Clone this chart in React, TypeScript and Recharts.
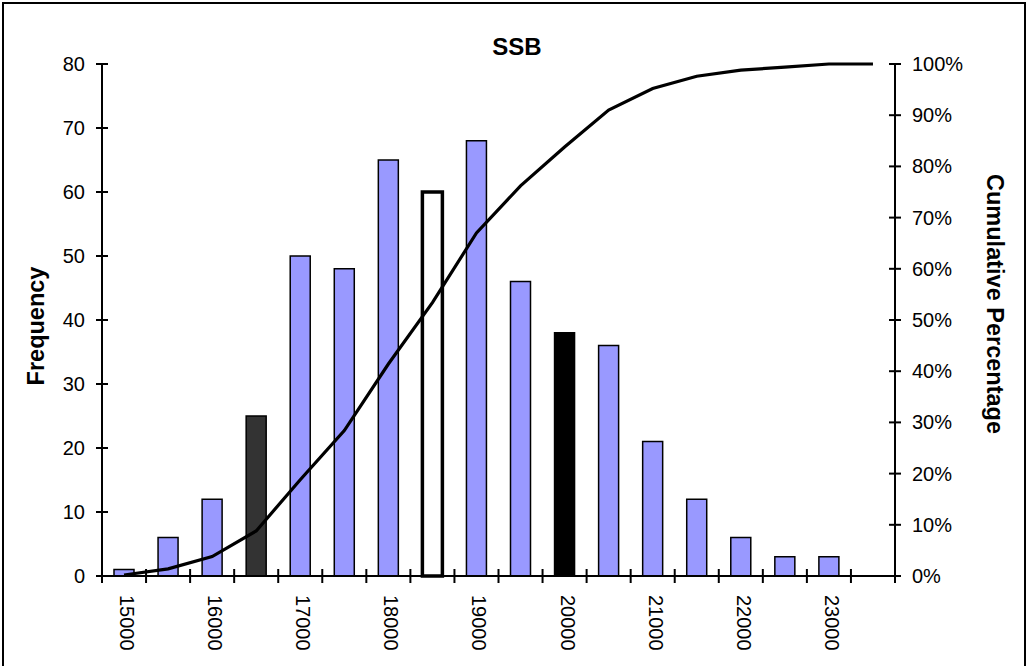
import React from 'react';
import { ComposedChart, Bar, Line, XAxis, YAxis, Cell } from 'recharts';

const categories = [15000, 15500, 16000, 16500, 17000, 17500, 18000, 18500, 19000, 19500, 20000, 20500, 21000, 21500, 22000, 22500, 23000, 23500];
const frequency = [1, 6, 12, 25, 50, 48, 65, 60, 68, 46, 38, 36, 21, 12, 6, 3, 3, 0];
const cumulativePct = [0.2, 1.4, 3.8, 8.8, 18.8, 28.4, 41.4, 53.4, 67, 76.2, 83.8, 91, 95.2, 97.6, 98.8, 99.4, 100, 100];
const xTickLabels = ['15000', '16000', '17000', '18000', '19000', '20000', '21000', '22000', '23000'];
const freqTicks = [0, 10, 20, 30, 40, 50, 60, 70, 80];
const pctTicks = [0, 10, 20, 30, 40, 50, 60, 70, 80, 90, 100];

const data = categories.map((c, i) => ({ cat: c, freq: frequency[i], cum: cumulativePct[i] }));

// styles
const FONT = '"Liberation Sans", Arial, sans-serif';
const W = 1027;
const H = 666;
const PLOT_LEFT = 102;
const PLOT_RIGHT = 895;
const PLOT_TOP = 64;
const PLOT_BOTTOM = 576;
const BAND = (PLOT_RIGHT - PLOT_LEFT) / categories.length;
const BAR_FILL = '#9999FF';
const highlight: Record<number, { fill: string; stroke: string; strokeWidth: number }> = {
  16500: { fill: '#333333', stroke: '#000', strokeWidth: 1.5 },
  18500: { fill: '#FFFFFF', stroke: '#000', strokeWidth: 3.5 },
  20000: { fill: '#000000', stroke: '#000', strokeWidth: 1.5 },
};

const LeftTick = (props: any) => {
  const { x, y, payload } = props;
  return (
    <g>
      <line x1={x - 6} x2={x + 6} y1={y} y2={y} stroke="#000" strokeWidth={2} />
      <text x={x - 17} y={y} textAnchor="end" dominantBaseline="central" fontSize={20} fontFamily={FONT} fill="#000">
        {payload.value}
      </text>
    </g>
  );
};

const RightTick = (props: any) => {
  const { x, y, payload } = props;
  return (
    <g>
      <line x1={x - 6} x2={x + 6} y1={y} y2={y} stroke="#000" strokeWidth={2} />
      <text x={x + 17} y={y} textAnchor="start" dominantBaseline="central" fontSize={20} fontFamily={FONT} fill="#000">
        {`${payload.value}%`}
      </text>
    </g>
  );
};

const BottomTick = (props: any) => {
  const { x, y, payload } = props;
  const half = BAND / 2;
  const isLast = payload.value === categories[categories.length - 1];
  const label = String(payload.value);
  return (
    <g>
      <line x1={x - half} x2={x - half} y1={y - 7} y2={y + 7} stroke="#000" strokeWidth={2} />
      {isLast && <line x1={x + half} x2={x + half} y1={y - 7} y2={y + 7} stroke="#000" strokeWidth={2} />}
      {xTickLabels.includes(label) && (
        <text
          transform={`translate(${x + 3},${y + 19}) rotate(90)`}
          textAnchor="start"
          dominantBaseline="central"
          fontSize={20}
          fontFamily={FONT}
          fill="#000"
        >
          {label}
        </text>
      )}
    </g>
  );
};

export default function App() {
  return (
    <div style={{ position: 'absolute', left: 0, top: 0, width: W, height: H, overflow: 'hidden', background: '#fff' }}>
      <div style={{ position: 'absolute', left: 2, top: 2, width: 1020, height: 720, border: '2px solid #000' }} />
      <div style={{ position: 'absolute', left: 0, top: 0 }}>
        <ComposedChart
          width={W}
          height={H}
          data={data}
          margin={{ top: PLOT_TOP, right: 0, bottom: 0, left: 0 }}
          barCategoryGap={0}
        >
          <XAxis
            dataKey="cat"
            height={H - PLOT_BOTTOM}
            interval={0}
            tickLine={false}
            tickSize={0}
            tickMargin={0}
            axisLine={{ stroke: '#000', strokeWidth: 2 }}
            tick={<BottomTick />}
          />
          <YAxis
            yAxisId="left"
            orientation="left"
            width={PLOT_LEFT}
            domain={[0, 80]}
            ticks={freqTicks}
            interval={0}
            tickLine={false}
            tickSize={0}
            tickMargin={0}
            axisLine={{ stroke: '#000', strokeWidth: 2 }}
            tick={<LeftTick />}
          />
          <YAxis
            yAxisId="right"
            orientation="right"
            width={W - PLOT_RIGHT}
            domain={[0, 100]}
            ticks={pctTicks}
            interval={0}
            tickLine={false}
            tickSize={0}
            tickMargin={0}
            axisLine={{ stroke: '#000', strokeWidth: 2 }}
            tick={<RightTick />}
          />
          <Bar yAxisId="left" dataKey="freq" barSize={20} fill={BAR_FILL} stroke="#000" strokeWidth={1.5} isAnimationActive={false}>
            {data.map((d) => {
              const h = highlight[d.cat];
              return (
                <Cell
                  key={d.cat}
                  fill={h ? h.fill : BAR_FILL}
                  stroke="#000"
                  strokeWidth={h ? h.strokeWidth : 1.5}
                />
              );
            })}
          </Bar>
          <Line
            yAxisId="right"
            dataKey="cum"
            type="linear"
            stroke="#000"
            strokeWidth={3.2}
            dot={false}
            activeDot={false}
            isAnimationActive={false}
          />
        </ComposedChart>
      </div>
      <svg width={W} height={H} style={{ position: 'absolute', left: 0, top: 0, pointerEvents: 'none' }}>
        <text x={517} y={46} textAnchor="middle" dominantBaseline="central" fontSize={24} fontWeight="bold" fontFamily={FONT} fill="#000">
          SSB
        </text>
        <text
          transform="translate(36,326) rotate(-90)"
          textAnchor="middle"
          dominantBaseline="central"
          fontSize={23.5}
          fontWeight="bold"
          fontFamily={FONT}
          fill="#000"
        >
          Frequency
        </text>
        <text
          transform="translate(995,304) rotate(90)"
          textAnchor="middle"
          dominantBaseline="central"
          fontSize={23.5}
          fontWeight="bold"
          fontFamily={FONT}
          fill="#000"
        >
          Cumulative Percentage
        </text>
      </svg>
    </div>
  );
}
